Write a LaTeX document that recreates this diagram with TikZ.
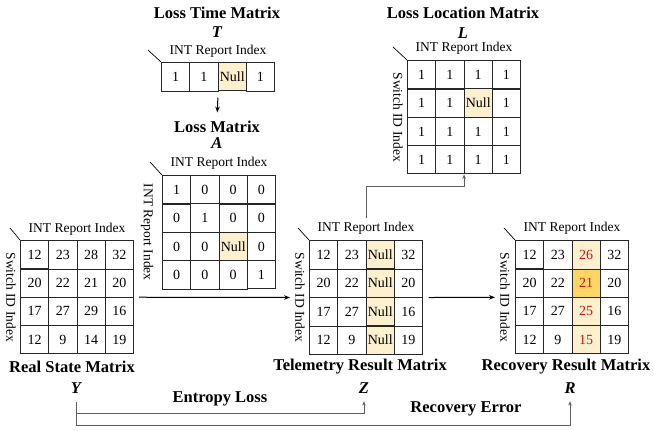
\documentclass[tikz,border=0pt]{standalone}
\usepackage{fontspec}
\setmainfont{Liberation Serif}
\usetikzlibrary{matrix,arrows.meta}
\definecolor{nullfill}{RGB}{253,240,206}
\definecolor{hotfill}{RGB}{255,214,102}
\definecolor{recred}{RGB}{204,20,20}
\definecolor{linkgray}{RGB}{95,95,95}
\begin{document}
\begin{tikzpicture}[x=1pt,y=-1pt,
  cell/.style={draw=black!85, line width=0.8pt, minimum width=28.25pt,
    minimum height=28.25pt, inner sep=0pt, font=\fontsize{14}{16}\selectfont},
  mat/.style={matrix of nodes, inner sep=0pt, column sep=-0.8pt,
    row sep=-0.8pt, nodes={cell}},
  nullc/.style={fill=nullfill},
  hot/.style={fill=hotfill},
  rtext/.style={text=recred},
  idx/.style={font=\fontsize{13.5}{15}\selectfont, inner sep=0pt},
  ttl/.style={font=\bfseries\fontsize{16.5}{18}\selectfont, inner sep=0pt},
  sym/.style={font=\bfseries\itshape\fontsize{16.5}{18}\selectfont, inner sep=0pt},
  diag/.style={line width=0.7pt},
  link/.style={draw=linkgray, line width=0.9pt, -{Stealth[length=4.5pt,width=3.5pt]}},
  flow/.style={line width=1pt, -{Stealth[length=6pt,width=4.5pt]}}]
\useasboundingbox (0,0) rectangle (654,431);

% ---- Loss time matrix T ----
\node[ttl] (T-name) at (217,13) {Loss Time Matrix};
\node[sym] (T-sym) at (217,32) {T};
\matrix (T) [mat, anchor=north west] at (161,62) {1 & 1 & |[nullc]| Null & 1\\};
\node[idx] (T-top) at ([yshift=11pt]T.north) {INT Report Index};
\draw[diag] (T.north west) -- ++(-13,-12);

% ---- Loss matrix A ----
\node[ttl] (A-name) at (217,127) {Loss Matrix};
\node[sym] (A-sym) at (217,143) {A};
\matrix (A) [mat, anchor=north west] at (162,175) {
  1 & 0 & 0 & 0\\
  0 & 1 & 0 & 0\\
  0 & 0 & |[nullc]| Null & 0\\
  0 & 0 & 0 & 1\\};
\node[idx] (A-top) at ([yshift=12pt]A.north) {INT Report Index};
\node[idx, rotate=-90] (A-side) at ([xshift=-15pt]A.west) {INT Report Index};
\draw[diag] (A.north west) -- ++(-12,-13);
\draw[flow, shorten <=6pt, shorten >=8.5pt] (T.south) -- (A-name.north);

% ---- Loss location matrix L ----
\node[ttl] (L-name) at (463,13) {Loss Location Matrix};
\node[sym] (L-sym) at (463,33) {L};
\matrix (L) [mat, anchor=north west] at (407,60) {
  1 & 1 & 1 & 1\\
  1 & 1 & |[nullc]| Null & 1\\
  1 & 1 & 1 & 1\\
  1 & 1 & 1 & 1\\};
\node[idx] (L-top) at ([yshift=12pt]L.north) {INT Report Index};
\node[idx, rotate=-90] (L-side) at ([xshift=-9pt]L.west) {Switch ID Index};
\draw[diag] (L.north west) -- ++(-14,-13);

% ---- Real state matrix Y ----
\matrix (Y) [mat, anchor=north west] at (20,240) {
  12 & 23 & 28 & 32\\
  20 & 22 & 21 & 20\\
  17 & 27 & 29 & 16\\
  12 & 9 & 14 & 19\\};
\node[idx] (Y-top) at ([yshift=11pt]Y.north) {INT Report Index};
\node[idx, rotate=-90] (Y-side) at ([xshift=-9pt]Y.west) {Switch ID Index};
\draw[diag] (Y.north west) -- ++(-10,-12);
\node[ttl] (Y-name) at (72,367) {Real State Matrix};
\node[sym] (Y-sym) at (76,388) {Y};

% ---- Telemetry result matrix Z ----
\matrix (Z) [mat, anchor=north west] at (309,240) {
  12 & 23 & |[nullc]| Null & 32\\
  20 & 22 & |[nullc]| Null & 20\\
  17 & 27 & |[nullc]| Null & 16\\
  12 & 9 & |[nullc]| Null & 19\\};
\node[idx] (Z-top) at ([yshift=12pt]Z.north) {INT Report Index};
\node[idx, rotate=-90] (Z-side) at ([xshift=-9pt]Z.west) {Switch ID Index};
\draw[diag] (Z.north west) -- ++(-11,-12);
\node[ttl] (Z-name) at (360,367) {Telemetry Result Matrix};
\node[sym] (Z-sym) at (364,388) {Z};

% ---- Recovery result matrix R ----
\matrix (R) [mat, anchor=north west] at (515,240) {
  12 & 23 & |[nullc,rtext]| 26 & 32\\
  20 & 22 & |[hot,rtext]| 21 & 20\\
  17 & 27 & |[nullc,rtext]| 25 & 16\\
  12 & 9 & |[nullc,rtext]| 15 & 19\\};
\node[idx] (R-top) at ([yshift=12pt]R.north) {INT Report Index};
\node[idx, rotate=-90] (R-side) at ([xshift=-10pt]R.west) {Switch ID Index};
\draw[diag] (R.north west) -- ++(-11,-12);
\node[ttl] (R-name) at (566,367) {Recovery Result Matrix};
\node[sym] (R-sym) at (570,388) {R};

% ---- main flow ----
\draw[flow, shorten <=5pt, shorten >=19pt] (Y.east) -- (Z.west);
\draw[flow, shorten <=5.5pt, shorten >=20pt] (Z.east) -- (R.west);

% ---- Z to L ----
\coordinate (bend) at (0,186);
\draw[link, shorten <=3.5pt] (Z-top.north) -- (Z-top.north |- bend) -| (L.south);

% ---- error brackets ----
\coordinate (ent) at (0,413);
\coordinate (rec) at (0,425);
\draw[link, shorten <=8.5pt, shorten >=7.5pt] (Y-sym.south) -- (Y-sym.south |- rec) -| (R-sym.south);
\draw[link, shorten >=7.5pt] (Y-sym.south |- ent) -| (Z-sym.south);
\node[ttl] (ent-lbl) at (220,399) {Entropy Loss};
\node[ttl] (rec-lbl) at (466,409) {Recovery Error};
\end{tikzpicture}
\end{document}
